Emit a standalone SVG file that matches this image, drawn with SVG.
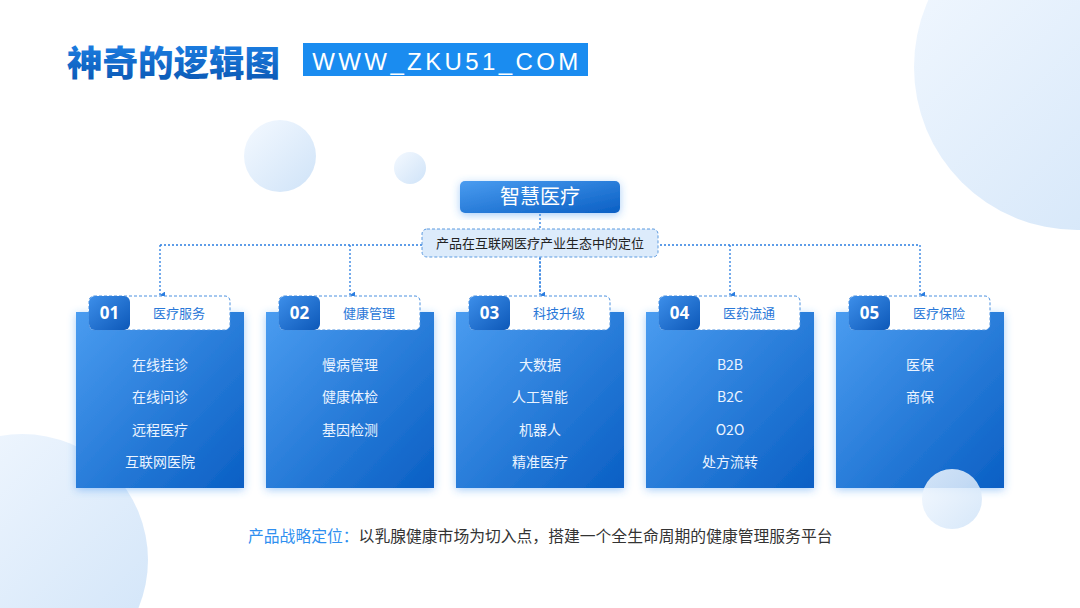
<svg xmlns="http://www.w3.org/2000/svg" width="1080" height="608" viewBox="0 0 1080 608">
<defs>
<linearGradient id="bub" x1="0" y1="0" x2="1" y2="1">
<stop offset="0" stop-color="#f4f9ff"/><stop offset="1" stop-color="#cfe3f8"/>
</linearGradient>
<linearGradient id="card" x1="0" y1="0" x2="1" y2="1">
<stop offset="0" stop-color="#4a9cf0"/><stop offset="1" stop-color="#0a5fc4"/>
</linearGradient>
<linearGradient id="badge" x1="0" y1="0" x2="1" y2="1">
<stop offset="0" stop-color="#3d8fea"/><stop offset="1" stop-color="#0d58b8"/>
</linearGradient>
<linearGradient id="title" x1="0" y1="0" x2="0" y2="1">
<stop offset="0" stop-color="#1f86ec"/><stop offset="1" stop-color="#0a55b0"/>
</linearGradient>
<filter id="glow2" x="-20%" y="-20%" width="140%" height="140%">
<feDropShadow dx="0" dy="2" stdDeviation="4" flood-color="#3c8ff0" flood-opacity="0.45"/>
</filter>
<marker id="arr" markerWidth="8" markerHeight="8" refX="3.5" refY="5" orient="auto" markerUnits="userSpaceOnUse">
<path d="M0,0 L7,0 L3.5,5 Z" fill="#2a7de1"/>
</marker>
</defs>
<style>
.cjk{font-family:"Noto Sans CJK SC","Noto Sans",sans-serif}
.item{font-family:"Noto Sans CJK SC","Noto Sans",sans-serif;font-size:14px;fill:#eaf3ff;text-anchor:middle}
.tab{fill:#ffffff;stroke:#4a90e0;stroke-width:1;stroke-dasharray:3 2}
.tabt{font-family:"Noto Sans CJK SC",sans-serif;font-size:13px;fill:#2a78d8;text-anchor:middle}
.num{font-family:"Noto Sans","Liberation Sans",sans-serif;font-size:17px;font-weight:bold;fill:#ffffff;text-anchor:middle}
.conn{fill:none;stroke:#2a7de1;stroke-width:1.3;stroke-dasharray:2 2}
</style>
<rect width="1080" height="608" fill="#ffffff"/>
<!-- decorative bubbles -->
<circle cx="1077" cy="67" r="163" fill="url(#bub)"/>
<circle cx="22" cy="560" r="126" fill="url(#bub)"/>
<circle cx="280" cy="156" r="36" fill="url(#bub)"/>
<circle cx="410" cy="168" r="16" fill="url(#bub)"/>
<!-- title -->
<g id="title-group">
<text x="67" y="76" class="cjk" font-size="35.5" font-weight="900" fill="url(#title)">神奇的逻辑图</text>
<rect x="303" y="43" width="285" height="33" fill="#1a8cf0"/>
<text x="447" y="70" font-family="Liberation Sans, Arial, sans-serif" font-size="24" fill="#ffffff" text-anchor="middle" letter-spacing="3.4">WWW_ZKU51_COM</text>
</g>
<!-- connectors -->
<g id="connectors">
<path class="conn" d="M540,214 V294"/>
<path class="conn" d="M160,245 H920"/>
<path class="conn" d="M160,245 V295" marker-end="url(#arr)"/>
<path class="conn" d="M350,245 V295" marker-end="url(#arr)"/>
<path class="conn" d="M540,257 V295" marker-end="url(#arr)"/>
<path class="conn" d="M730,245 V295" marker-end="url(#arr)"/>
<path class="conn" d="M920,245 V295" marker-end="url(#arr)"/>
</g>
<g id="root">
<rect x="460" y="181" width="160" height="32" rx="5" fill="url(#card)" filter="url(#glow2)"/>
<text x="540" y="204" class="cjk" font-size="20" fill="#ffffff" text-anchor="middle">智慧医疗</text>
</g>
<g id="sub">
<rect x="422" y="229" width="236" height="28" rx="5" fill="#dcebfb" stroke="#5b9ae0" stroke-width="1" stroke-dasharray="3 2"/>
<text x="540" y="248" class="cjk" font-size="13" fill="#222" text-anchor="middle">产品在互联网医疗产业生态中的定位</text>
</g>
<!-- cards -->
<g id="card1">
<rect x="76" y="312" width="168" height="176" fill="url(#card)" filter="url(#glow2)"/>
<rect class="tab" x="89" y="296" width="141" height="34" rx="5"/>
<rect x="89" y="296" width="41" height="34" rx="6" fill="url(#badge)"/>
<text class="num" x="109.5" y="319">01</text>
<text class="tabt" x="179" y="318">医疗服务</text>
<text class="item" x="160" y="370">在线挂诊</text>
<text class="item" x="160" y="402">在线问诊</text>
<text class="item" x="160" y="435">远程医疗</text>
<text class="item" x="160" y="467">互联网医院</text>
</g>
<g id="card2">
<rect x="266" y="312" width="168" height="176" fill="url(#card)" filter="url(#glow2)"/>
<rect class="tab" x="279" y="296" width="141" height="34" rx="5"/>
<rect x="279" y="296" width="41" height="34" rx="6" fill="url(#badge)"/>
<text class="num" x="299.5" y="319">02</text>
<text class="tabt" x="369" y="318">健康管理</text>
<text class="item" x="350" y="370">慢病管理</text>
<text class="item" x="350" y="402">健康体检</text>
<text class="item" x="350" y="435">基因检测</text>
</g>
<g id="card3">
<rect x="456" y="312" width="168" height="176" fill="url(#card)" filter="url(#glow2)"/>
<rect class="tab" x="469" y="296" width="141" height="34" rx="5"/>
<rect x="469" y="296" width="41" height="34" rx="6" fill="url(#badge)"/>
<text class="num" x="489.5" y="319">03</text>
<text class="tabt" x="559" y="318">科技升级</text>
<text class="item" x="540" y="370">大数据</text>
<text class="item" x="540" y="402">人工智能</text>
<text class="item" x="540" y="435">机器人</text>
<text class="item" x="540" y="467">精准医疗</text>
</g>
<g id="card4">
<rect x="646" y="312" width="168" height="176" fill="url(#card)" filter="url(#glow2)"/>
<rect class="tab" x="659" y="296" width="141" height="34" rx="5"/>
<rect x="659" y="296" width="41" height="34" rx="6" fill="url(#badge)"/>
<text class="num" x="679.5" y="319">04</text>
<text class="tabt" x="749" y="318">医药流通</text>
<text class="item" x="730" y="370" font-family="Noto Sans, sans-serif">B2B</text>
<text class="item" x="730" y="402" font-family="Noto Sans, sans-serif">B2C</text>
<text class="item" x="730" y="435" font-family="Noto Sans, sans-serif">O2O</text>
<text class="item" x="730" y="467">处方流转</text>
</g>
<g id="card5">
<rect x="836" y="312" width="168" height="176" fill="url(#card)" filter="url(#glow2)"/>
<rect class="tab" x="849" y="296" width="141" height="34" rx="5"/>
<rect x="849" y="296" width="41" height="34" rx="6" fill="url(#badge)"/>
<text class="num" x="869.5" y="319">05</text>
<text class="tabt" x="939" y="318">医疗保险</text>
<text class="item" x="920" y="370">医保</text>
<text class="item" x="920" y="402">商保</text>
</g>
<circle cx="952" cy="499" r="30" fill="url(#bub)" opacity="0.85"/>
<g id="footer">
<text x="248" y="542" class="cjk" font-size="15.8" fill="#333333"><tspan fill="#2f8ff0">产品战略定位：</tspan>以乳腺健康市场为切入点，搭建一个全生命周期的健康管理服务平台</text>
</g>
</svg>
